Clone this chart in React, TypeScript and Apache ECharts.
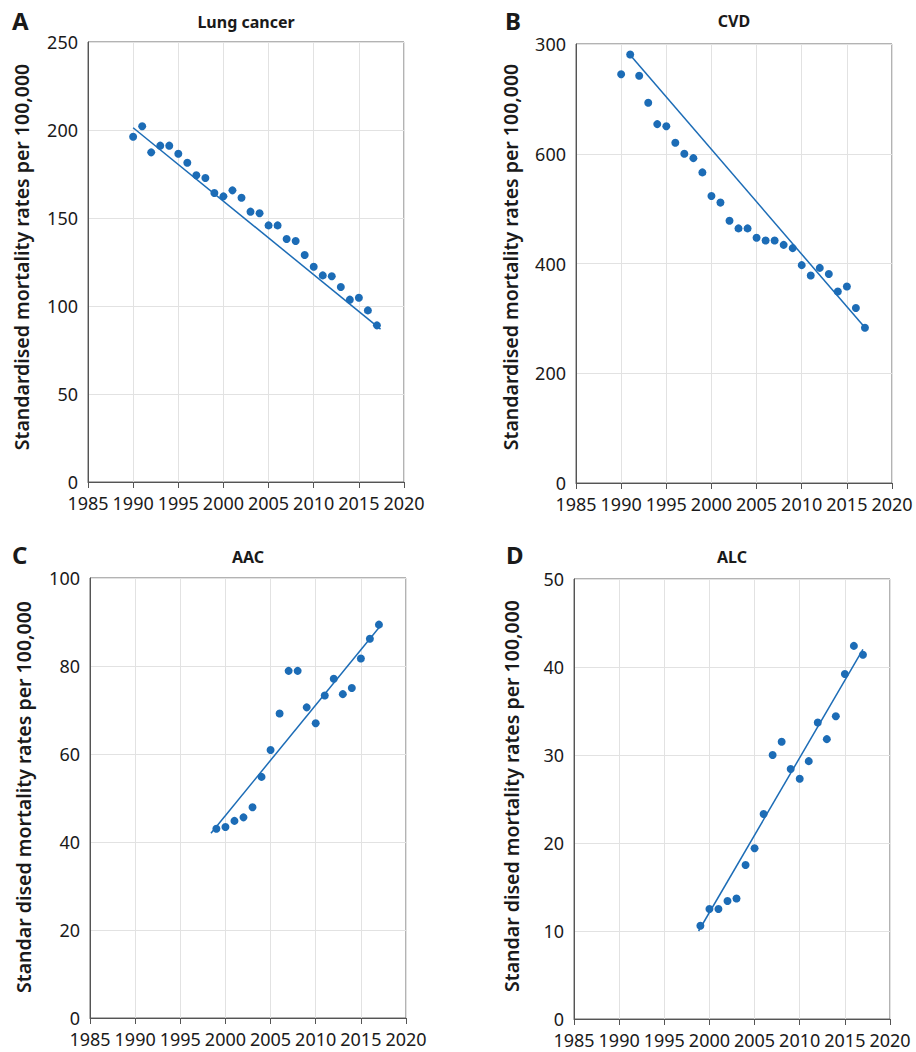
import React, { useEffect, useRef } from "react";
import * as echarts from "echarts";

const panelLetters = ["A", "B", "C", "D"];
const panelTitles = ["Lung cancer", "CVD", "AAC", "ALC"];
const yAxisNames = [
  "Standardised mortality rates per 100,000",
  "Standardised mortality rates per 100,000",
  "Standar dised mortality rates per 100,000",
  "Standar dised mortality rates per 100,000",
];

const yearsAB = [1990, 1991, 1992, 1993, 1994, 1995, 1996, 1997, 1998, 1999, 2000, 2001, 2002, 2003, 2004, 2005, 2006, 2007, 2008, 2009, 2010, 2011, 2012, 2013, 2014, 2015, 2016, 2017];
const yearsCD = [1999, 2000, 2001, 2002, 2003, 2004, 2005, 2006, 2007, 2008, 2009, 2010, 2011, 2012, 2013, 2014, 2015, 2016, 2017];

const lungValues = [196.2, 202.1, 187.3, 191.1, 191.1, 186.5, 181.4, 174.3, 172.7, 164.2, 162.3, 165.7, 161.5, 153.6, 152.7, 145.8, 145.8, 138.1, 136.9, 129.0, 122.3, 117.4, 116.9, 110.8, 103.6, 104.7, 97.5, 89.0];
const cvdValues = [745, 781, 742, 693, 654, 650, 620, 600, 592, 566, 523, 511, 478, 464, 464, 447, 442, 442, 434, 428, 397, 378, 392, 381, 349, 358, 319, 283];
const aacValues = [43.0, 43.4, 44.8, 45.6, 47.9, 54.8, 60.9, 69.2, 78.9, 78.9, 70.6, 67.0, 73.3, 77.1, 73.6, 75.0, 81.7, 86.2, 89.4];
const alcValues = [10.6, 12.5, 12.5, 13.4, 13.7, 17.5, 19.4, 23.3, 30.0, 31.5, 28.4, 27.3, 29.3, 33.7, 31.8, 34.4, 39.2, 42.4, 41.4];

const lungTrend = [[1990, 201.3], [2017.4, 86.9]];
const cvdTrend = [[1991, 780], [2016.9, 285]];
const aacTrend = [[1998.4, 42.0], [2017.2, 89.2]];
const alcTrend = [[1998.8, 10.0], [2017.0, 42.0]];

const xMin = 1985;
const xMax = 2020;
const xInterval = 5;

const yMaxes = [250, 800, 100, 50];
const yIntervals = [50, 200, 20, 10];
const cvdYTickLabels = ["0", "200", "400", "600", "300"];

const FONT = "'Noto Sans', 'Open Sans', sans-serif";
const BLUE = "#1c6cb6";
const TEXT = "#1a1a1a";

const grids = [
  { left: 88, top: 42, width: 316, height: 440 },
  { left: 576, top: 44, width: 316, height: 439 },
  { left: 90, top: 578, width: 316, height: 440 },
  { left: 574, top: 579, width: 316, height: 440 },
];

const letterPos = [[12, 8], [505, 8], [12, 542], [506, 542]];
const titlePos = [[246, 22], [734, 21], [248, 557], [732, 557]];
const namePos = [[21, 257], [510, 257], [23, 797], [511, 796]];

export default function App() {
  const ref = useRef<HTMLDivElement>(null);
  useEffect(() => {
    document.body.style.margin = "0";
    if (!ref.current) return;
    const chart = echarts.init(ref.current, null, { renderer: "svg" });
    const pointSets = [
      { years: yearsAB, vals: lungValues, trend: lungTrend },
      { years: yearsAB, vals: cvdValues, trend: cvdTrend },
      { years: yearsCD, vals: aacValues, trend: aacTrend },
      { years: yearsCD, vals: alcValues, trend: alcTrend },
    ];
    const series: any[] = [];
    pointSets.forEach((p, i) => {
      series.push({
        type: "scatter",
        xAxisIndex: i,
        yAxisIndex: i,
        data: p.years.map((y, k) => [y, p.vals[k]]),
        symbol: "circle",
        symbolSize: 8,
        itemStyle: { color: BLUE, opacity: 1 },
        z: 3,
      });
      series.push({
        type: "line",
        xAxisIndex: i,
        yAxisIndex: i,
        data: p.trend,
        showSymbol: false,
        symbol: "none",
        lineStyle: { color: BLUE, width: 1.5 },
        z: 2,
      });
    });
    const graphic: any[] = [];
    panelLetters.forEach((l, i) => {
      graphic.push({
        type: "text",
        x: letterPos[i][0],
        y: letterPos[i][1],
        style: { text: l, font: `bold 24px ${FONT}`, fill: TEXT },
      });
      graphic.push({
        type: "text",
        x: titlePos[i][0],
        y: titlePos[i][1],
        style: { text: panelTitles[i], font: `bold 16px ${FONT}`, fill: TEXT, textAlign: "center", textVerticalAlign: "middle" },
      });
      graphic.push({
        type: "text",
        x: namePos[i][0],
        y: namePos[i][1],
        rotation: Math.PI / 2,
        style: { text: yAxisNames[i], font: `600 19.5px ${FONT}`, fill: TEXT, textAlign: "center", textVerticalAlign: "middle" },
      });
    });
    chart.setOption({
      animation: false,
      backgroundColor: "#ffffff",
      grid: grids.map((g) => ({ ...g, show: true, borderColor: "#666", borderWidth: 1, backgroundColor: "transparent" })),
      xAxis: grids.map((_, i) => ({
        type: "value",
        gridIndex: i,
        min: xMin,
        max: xMax,
        interval: xInterval,
        axisLine: { show: true, lineStyle: { color: "#555", width: 1 } },
        axisTick: { show: true, length: 6, lineStyle: { color: "#555" } },
        axisLabel: { color: TEXT, fontSize: 18, lineHeight: 18, fontFamily: FONT, margin: 12, formatter: (v: number) => String(v), showMinLabel: true, showMaxLabel: true },
        splitLine: { show: true, lineStyle: { color: "#e2e2e2", width: 1 } },
      })),
      yAxis: grids.map((_, i) => ({
        type: "value",
        gridIndex: i,
        min: 0,
        max: yMaxes[i],
        interval: yIntervals[i],
        axisLine: { show: true, lineStyle: { color: "#555", width: 1 } },
        axisTick: { show: false },
        axisLabel: {
          color: TEXT,
          fontSize: 18,
          lineHeight: 15,
          fontFamily: FONT,
          margin: 10,
          formatter: i === 1 ? (v: number) => cvdYTickLabels[Math.round(v / 200)] : (v: number) => String(v),
        },
        splitLine: { show: true, lineStyle: { color: "#e2e2e2", width: 1 } },
      })),
      series,
      graphic,
    });
    return () => chart.dispose();
  }, []);
  return <div ref={ref} style={{ width: 916, height: 1052 }} />;
}
